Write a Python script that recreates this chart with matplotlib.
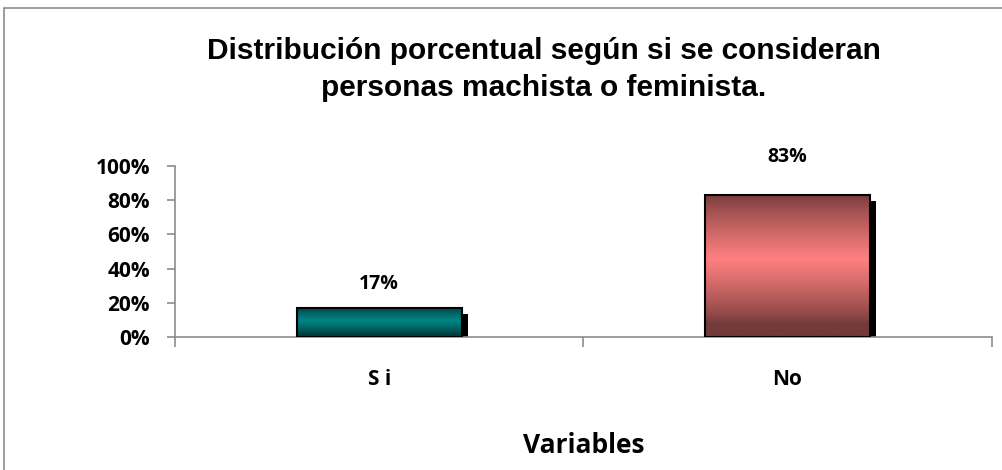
import numpy as np
import matplotlib
matplotlib.use("Agg")
import matplotlib.pyplot as plt
from matplotlib.patches import Rectangle
from matplotlib import transforms
from matplotlib.colors import to_rgb

categories = ["S i", "No"]
values = [0.17, 0.83]
labels = ["17%", "83%"]
yticks = [0, 0.2, 0.4, 0.6, 0.8, 1.0]
ytick_labels = ["0%", "20%", "40%", "60%", "80%", "100%"]

title = "Distribución porcentual según si se consideran\npersonas machista o feminista."
xlabel = "Variables"

# dark edge / light centre colours for each bar
dark_colors = ["#003c3c", "#733a3a"]
light_colors = ["#008585", "#ff8080"]

font = ["Open Sans", "DejaVu Sans"]

fig = plt.figure(figsize=(10.02, 4.70), dpi=100)
ax = fig.add_axes([0.1747, 0.283, 0.815, 0.364])

# outer chart border
fig.patches.append(Rectangle((4 / 1002, -0.1), 1.2, 0.1 + 1 - 8 / 470,
                             transform=fig.transFigure, fill=False,
                             edgecolor="#8c8c8c", linewidth=1.2))

x = np.arange(len(categories))
bars = ax.bar(x, values, width=0.405, facecolor="none", edgecolor="black",
              linewidth=1.5, zorder=4)

shadow_tr = ax.transData + transforms.ScaledTranslation(6 / 100, -6 / 100, fig.dpi_scale_trans)
t = np.linspace(0, 1, 200)
profile = np.clip(1 - np.abs(2 * t - 1.1) * 1.1, 0, 1) ** 0.8

for b, d, l in zip(bars, dark_colors, light_colors):
    bx, bw, bh = b.get_x(), b.get_width(), b.get_height()
    # drop shadow
    ax.add_patch(Rectangle((bx, 0), bw, bh, transform=shadow_tr,
                           facecolor="black", edgecolor="none", zorder=2))
    d_rgb = np.array(to_rgb(d))
    l_rgb = np.array(to_rgb(l))
    grad = d_rgb[None, :] + (l_rgb - d_rgb)[None, :] * profile[:, None]
    img = np.repeat(grad[:, None, :], 2, axis=1)
    ax.imshow(img, extent=[bx, bx + bw, 0, bh], origin="lower",
              aspect="auto", zorder=3, interpolation="bilinear")

label_offsets = [17, 27]
for b, lab, off in zip(bars, labels, label_offsets):
    ax.annotate(lab, (b.get_x() + b.get_width() / 2, b.get_height()),
                xytext=(0, off), textcoords="offset points", ha="center",
                va="center", fontsize=14, fontweight="bold", family=font)

ax.set_xlim(-0.5, len(categories) - 0.5)
ax.set_ylim(0, 1)

ax.set_yticks(yticks)
ax.set_yticklabels(ytick_labels, fontsize=15, fontweight="bold", family=font)
ax.set_xticks(x)
ax.set_xticklabels(categories, fontsize=15, fontweight="bold", family=font)
ax.set_xticks([-0.5, 0.5, 1.5], minor=True)
ax.tick_params(axis="x", which="major", length=0, pad=23)
ax.tick_params(axis="x", which="minor", length=7, color="#8c8c8c", width=1.2)
ax.tick_params(axis="y", length=6, color="#8c8c8c", width=1.2, pad=12)

for s in ["top", "right"]:
    ax.spines[s].set_visible(False)
for s in ["left", "bottom"]:
    ax.spines[s].set_color("#8c8c8c")
    ax.spines[s].set_linewidth(1.2)

ax.set_xlabel(xlabel, fontsize=19, fontweight="bold", labelpad=30, family=font)

fig.text(0.543, 0.852, title, ha="center", va="center", fontsize=21.5,
         fontweight="bold", linespacing=1.42,
         family=["Liberation Sans", "DejaVu Sans"])

fig.savefig("out.png", dpi=100)
